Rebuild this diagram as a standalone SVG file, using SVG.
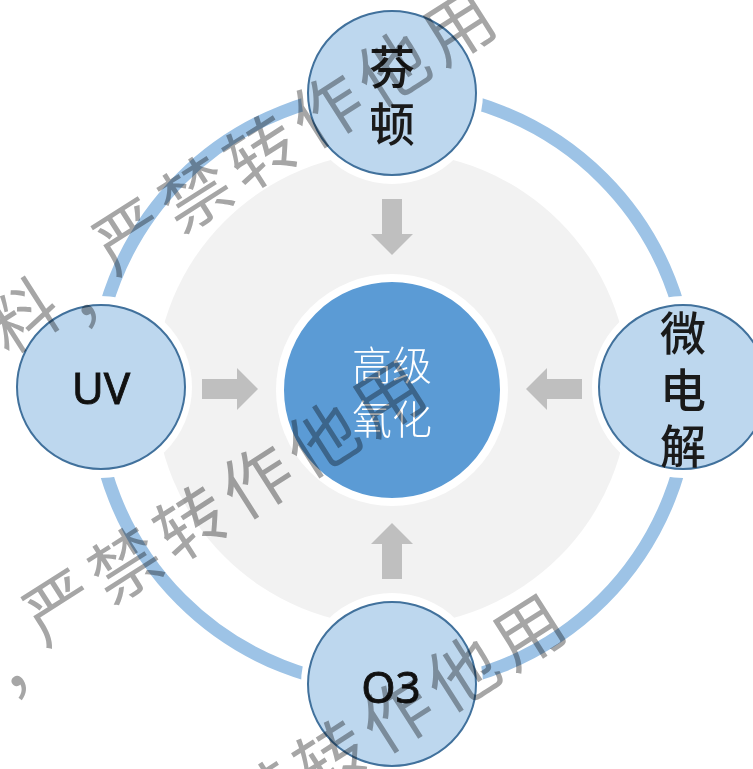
<svg xmlns="http://www.w3.org/2000/svg" width="753" height="769" viewBox="0 0 753 769">
  <defs>
    <style>
      .ring { fill: none; stroke: #9DC3E6; stroke-width: 13; }
      .disc { fill: #F2F2F2; }
      .halo { fill: #FFFFFF; }
      .node { fill: #BDD7EE; stroke: #41719C; stroke-width: 2; }
      .core { fill: #5B9BD5; stroke: #FFFFFF; stroke-width: 8; }
      .arrow { fill: #BFBFBF; }
      .cjk { font-family: "Noto Sans CJK SC", "Noto Sans", sans-serif; text-anchor: middle; dominant-baseline: central; }
      .lbl { fill: #1A1A1A; font-size: 46px; font-weight: 500; }
      .lat { font-family: "Noto Sans", "Liberation Sans", sans-serif; fill: #111111; font-size: 44px; text-anchor: middle; dominant-baseline: central; stroke: #111111; stroke-width: 0.8; }
      .coretext { fill: #FFFFFF; font-size: 40px; font-weight: 300; }
      .wm { font-family: "Noto Sans CJK SC", sans-serif; font-size: 70px; fill: #A6A6A6; text-anchor: middle; dominant-baseline: central; mix-blend-mode: multiply; }
    </style>
    <polygon id="arr" class="arrow" points="-190,-10 -155,-10 -155,-21 -134,0 -155,21 -155,10 -190,10"/>
  </defs>
  <rect width="753" height="769" fill="#FFFFFF"/>

  <g id="background">
    <circle class="ring" cx="392" cy="389" r="298"/>
    <circle class="disc" cx="392" cy="389" r="237"/>
  </g>

  <g id="connectors">
    <use href="#arr" transform="translate(392,389) rotate(90)"/>
    <use href="#arr" transform="translate(392,389)"/>
    <use href="#arr" transform="translate(392,389) rotate(180)"/>
    <use href="#arr" transform="translate(392,389) rotate(-90)"/>
  </g>

  <g id="center">
    <circle class="core" cx="392" cy="390" r="112"/>
    <text class="cjk coretext" x="392" y="363">高级<tspan x="392" y="417">氧化</tspan></text>
  </g>

  <g id="node-top">
    <circle class="halo" cx="392" cy="93" r="91"/>
    <ellipse class="node" cx="392" cy="93" rx="84" ry="82"/>
    <text class="cjk lbl" x="392" y="64">芬<tspan x="392" y="121">顿</tspan></text>
  </g>

  <g id="node-left">
    <circle class="halo" cx="101" cy="387" r="91"/>
    <ellipse class="node" cx="101" cy="387" rx="84" ry="82"/>
    <text class="lat" x="101" y="387">UV</text>
  </g>

  <g id="node-right">
    <circle class="halo" cx="683" cy="387" r="91"/>
    <ellipse class="node" cx="683" cy="387" rx="84" ry="82"/>
    <text class="cjk lbl" x="683" y="330">微<tspan x="683" y="387">电</tspan><tspan x="683" y="443">解</tspan></text>
  </g>

  <g id="node-bottom">
    <circle class="halo" cx="392" cy="684" r="91"/>
    <ellipse class="node" cx="392" cy="684" rx="84" ry="82"/>
    <text class="lat" x="391" y="686">O3</text>
  </g>

  <g id="watermark">
    <text class="wm" transform="translate(127,232) rotate(-32.5)" x="-133 -58 0 78 156 234 312 390" y="10 25 0 0 0 0 0 0">料，严禁转作他用</text>
    <text class="wm" transform="translate(57,603) rotate(-32.5)" x="-133 -58 0 78 156 234 312 390" y="10 25 0 0 0 0 0 0">料，严禁转作他用</text>
    <text class="wm" transform="translate(197,837) rotate(-32.5)" x="-133 -58 0 78 156 234 312 390" y="10 25 0 0 0 0 0 0">料，严禁转作他用</text>
  </g>
</svg>
